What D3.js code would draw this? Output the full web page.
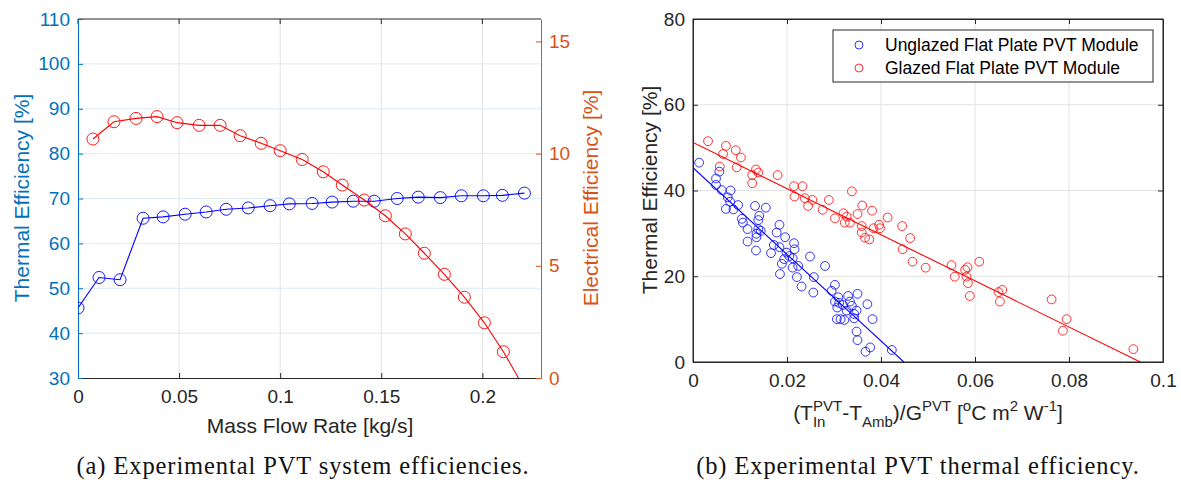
<!DOCTYPE html>
<html>
<head>
<meta charset="utf-8">
<script src="https://cdn.jsdelivr.net/npm/d3@7"></script>
<style>
  body { margin: 0; background: #fff; }
  text { font-family: "Liberation Sans", Arial, sans-serif; white-space: pre; }
</style>
</head>
<body>
<svg id="chart" width="1181" height="483"></svg>
<script>
// ---- data: (a) system efficiencies vs mass flow rate ----
const flowRate = [0, 0.0104, 0.0208, 0.0322, 0.0421, 0.0530, 0.0634, 0.0733, 0.0842, 0.0950, 0.1045,
                  0.1158, 0.1257, 0.1361, 0.1465, 0.1579, 0.1683, 0.1792, 0.1896, 0.2005, 0.2099, 0.2208];
const thermalEff = [45.6, 52.4, 51.9, 65.6, 65.9, 66.5, 67.0, 67.6, 67.9, 68.4, 68.8,
                    68.9, 69.2, 69.4, 69.4, 70.0, 70.3, 70.2, 70.6, 70.6, 70.7, 71.2];
const elecFlow = [0.0074, 0.0178, 0.0287, 0.0391, 0.0490, 0.0599, 0.0703, 0.0802, 0.0906, 0.1000, 0.1109,
                  0.1213, 0.1307, 0.1416, 0.1520, 0.1619, 0.1713, 0.1812, 0.1911, 0.2010, 0.2104, 0.2198];
const elecEff = [10.65, 11.42, 11.57, 11.65, 11.38, 11.26, 11.26, 10.80, 10.46, 10.13, 9.74,
                 9.19, 8.60, 7.93, 7.23, 6.42, 5.56, 4.62, 3.60, 2.46, 1.17, -0.30];
const xTicksA = [0, 0.05, 0.1, 0.15, 0.2];
const xTickLabelsA = ["0", "0.05", "0.1", "0.15", "0.2"];
const thermalTicks = [30, 40, 50, 60, 70, 80, 90, 100, 110];
const elecTicks = [0, 5, 10, 15];

// ---- data: (b) thermal efficiency vs reduced temperature ----
const unglazedX = [0.0013, 0.0056, 0.0049, 0.0049, 0.0061, 0.0080, 0.0074, 0.0079, 0.0070, 0.0086,
                   0.0096, 0.0132, 0.0155, 0.0141, 0.0139, 0.0104, 0.0106, 0.0116, 0.0139, 0.0144,
                   0.0135, 0.0135, 0.0116, 0.0134, 0.0184, 0.0178, 0.0196, 0.0172, 0.0184, 0.0166,
                   0.0215, 0.0216, 0.0199, 0.0205, 0.0212, 0.0194, 0.0189, 0.0212, 0.0224, 0.0185,
                   0.0221, 0.0249, 0.0231, 0.0257, 0.0281, 0.0256, 0.0302, 0.0295, 0.0309, 0.0330,
                   0.0350, 0.0302, 0.0311, 0.0319, 0.0307, 0.0334, 0.0338, 0.0327, 0.0348, 0.0343,
                   0.0371, 0.0343, 0.0382, 0.0306, 0.0314, 0.0322, 0.0348, 0.0350, 0.0377, 0.0367,
                   0.0423];
const unglazedY = [46.5, 44.4, 42.8, 41.3, 40.1, 40.0, 38.4, 37.4, 35.7, 35.6,
                   36.6, 36.4, 36.0, 34.1, 33.1, 33.4, 32.5, 31.0, 31.0, 30.6,
                   29.9, 29.1, 28.1, 26.0, 32.0, 30.2, 29.1, 27.3, 26.8, 25.4,
                   27.7, 26.3, 25.5, 24.7, 24.2, 24.0, 22.9, 22.0, 22.4, 20.5,
                   19.8, 24.6, 17.6, 19.8, 22.4, 16.2, 18.0, 16.6, 15.1, 15.4,
                   15.9, 14.1, 13.8, 13.3, 12.7, 14.1, 13.1, 12.0, 12.0, 11.2,
                   13.5, 10.2, 10.0, 10.0, 10.0, 9.8, 7.1, 5.1, 3.4, 2.4,
                   2.8];
const glazedX = [0.0032, 0.0070, 0.0091, 0.0064, 0.0102, 0.0057, 0.0093, 0.0134, 0.0139, 0.0126,
                 0.0126, 0.0180, 0.0215, 0.0233, 0.0216, 0.0238, 0.0254, 0.0245, 0.0276, 0.0289,
                 0.0338, 0.0302, 0.0320, 0.0327, 0.0323, 0.0334, 0.0350, 0.0360, 0.0381, 0.0359,
                 0.0359, 0.0366, 0.0375, 0.0384, 0.0396, 0.0398, 0.0414, 0.0445, 0.0462, 0.0446,
                 0.0467, 0.0495, 0.0550, 0.0557, 0.0579, 0.0584, 0.0609, 0.0582, 0.0585, 0.0589,
                 0.0658, 0.0650, 0.0653, 0.0763, 0.0795, 0.0787, 0.0937];
const glazedY = [51.5, 50.4, 49.4, 48.5, 47.7, 45.6, 45.4, 44.9, 44.2, 43.6,
                 41.7, 43.6, 41.0, 41.0, 38.6, 38.2, 37.8, 36.4, 35.5, 37.8,
                 39.8, 33.5, 34.7, 33.9, 32.5, 32.5, 34.5, 36.5, 35.3, 31.7,
                 30.2, 29.0, 28.6, 31.2, 32.0, 31.2, 33.7, 31.7, 28.9, 26.3,
                 23.4, 22.0, 22.6, 19.9, 21.5, 22.1, 23.4, 19.9, 18.4, 15.4,
                 16.8, 16.3, 14.1, 14.6, 10.0, 7.3, 3.0];
// linear fits [intercept, slope]
const unglazedFit = [45.3, -1010];
const glazedFit = [51.2, -538];
const xTicksB = [0, 0.02, 0.04, 0.06, 0.08, 0.1];
const xTickLabelsB = ["0", "0.02", "0.04", "0.06", "0.08", "0.1"];
const yTicksB = [0, 20, 40, 60, 80];
const legendLabels = ["Unglazed Flat Plate PVT Module", "Glazed Flat Plate PVT Module"];

// ---- styling ----
const axisColor = "#262626";
const thermalColor = "#0072BD";
const elecColor = "#D95319";
const gridBlue = "#DCEBF5";
const gridGray = "#E3E3E3";
const tickFont = 19;
const labelFont = 21;
const tickLen = 5;

const svg = d3.select("#chart");

function styleAxis(g, color) {
    g.attr("font-size", tickFont)
     .attr("font-family", "'Liberation Sans', Arial, sans-serif");
    g.select(".domain").attr("stroke", color);
    g.selectAll(".tick line").attr("stroke", color);
    g.selectAll(".tick text").attr("fill", color);
}

// ================= panel (a) =================
const xA = d3.scaleLinear().domain([0, 0.229]).range([78, 541]);
const yT = d3.scaleLinear().domain([30, 110]).range([378, 19]);
const yE = d3.scaleLinear().domain([0, 16]).range([378, 19]);

const panelA = svg.append("g");

panelA.append("clipPath").attr("id", "clipA")
    .append("rect").attr("x", 78).attr("y", 19).attr("width", 463).attr("height", 359);

// grid
panelA.selectAll("line.vgrid")
    .data(xTicksA.slice(1))
    .enter().append("line")
    .attr("x1", d => xA(d)).attr("x2", d => xA(d))
    .attr("y1", 19).attr("y2", 378)
    .attr("stroke", gridGray);
panelA.selectAll("line.hgrid")
    .data(thermalTicks.slice(1, -1))
    .enter().append("line")
    .attr("x1", 78).attr("x2", 541)
    .attr("y1", d => yT(d)).attr("y2", d => yT(d))
    .attr("stroke", gridBlue);

// top box line + ticks
panelA.append("line")
    .attr("x1", 78).attr("x2", 541).attr("y1", 19).attr("y2", 19)
    .attr("stroke", axisColor);
panelA.selectAll("line.topTick")
    .data(xTicksA)
    .enter().append("line")
    .attr("x1", d => xA(d)).attr("x2", d => xA(d))
    .attr("y1", 19).attr("y2", 19 + tickLen)
    .attr("stroke", axisColor);

// axes
const axA = panelA.append("g")
    .attr("transform", "translate(0,378)")
    .call(d3.axisBottom(xA).tickValues(xTicksA).tickFormat((d, i) => xTickLabelsA[i])
        .tickSizeInner(-tickLen).tickSizeOuter(0).tickPadding(12));
styleAxis(axA, axisColor);

const ayT = panelA.append("g")
    .attr("transform", "translate(78,0)")
    .call(d3.axisLeft(yT).tickValues(thermalTicks).tickFormat(d3.format("d"))
        .tickSizeInner(-tickLen).tickSizeOuter(0).tickPadding(8));
styleAxis(ayT, thermalColor);

const ayE = panelA.append("g")
    .attr("transform", "translate(541,0)")
    .call(d3.axisRight(yE).tickValues(elecTicks).tickFormat(d3.format("d"))
        .tickSizeInner(-tickLen).tickSizeOuter(0).tickPadding(8));
styleAxis(ayE, elecColor);

// series
const thermalPts = flowRate.map((x, i) => ({ x: x, y: thermalEff[i] }));
const elecPts = elecFlow.map((x, i) => ({ x: x, y: elecEff[i] }));

const plotA = panelA.append("g").attr("clip-path", "url(#clipA)");

plotA.append("path")
    .datum(thermalPts)
    .attr("fill", "none").attr("stroke", "#0000FF").attr("stroke-width", 1.1)
    .attr("d", d3.line().x(d => xA(d.x)).y(d => yT(d.y)));
plotA.selectAll("circle.th")
    .data(thermalPts)
    .enter().append("circle")
    .attr("cx", d => xA(d.x)).attr("cy", d => yT(d.y)).attr("r", 6)
    .attr("fill", "none").attr("stroke", "#0000FF").attr("stroke-width", 0.9);

plotA.append("path")
    .datum(elecPts)
    .attr("fill", "none").attr("stroke", "#FF0000").attr("stroke-width", 1.1)
    .attr("d", d3.line().x(d => xA(d.x)).y(d => yE(d.y)));
plotA.selectAll("circle.el")
    .data(elecPts.filter(d => d.y >= 0))
    .enter().append("circle")
    .attr("cx", d => xA(d.x)).attr("cy", d => yE(d.y)).attr("r", 6)
    .attr("fill", "none").attr("stroke", "#FF0000").attr("stroke-width", 0.9);

// labels
panelA.append("text")
    .attr("transform", "translate(29,198) rotate(-90)")
    .attr("text-anchor", "middle")
    .attr("font-size", labelFont)
    .attr("fill", thermalColor)
    .text("Thermal Efficiency [%]");
panelA.append("text")
    .attr("transform", "translate(598,198) rotate(-90)")
    .attr("text-anchor", "middle")
    .attr("font-size", labelFont)
    .attr("fill", elecColor)
    .text("Electrical Efficiency [%]");
panelA.append("text")
    .attr("x", 310).attr("y", 433)
    .attr("text-anchor", "middle")
    .attr("font-size", labelFont)
    .attr("fill", axisColor)
    .text("Mass Flow Rate [kg/s]");

// ================= panel (b) =================
const xB = d3.scaleLinear().domain([0, 0.1]).range([693, 1163]);
const yB = d3.scaleLinear().domain([0, 80]).range([362, 19]);

const panelB = svg.append("g");

panelB.append("clipPath").attr("id", "clipB")
    .append("rect").attr("x", 693).attr("y", 19).attr("width", 470).attr("height", 343);

panelB.selectAll("line.vgrid")
    .data(xTicksB.slice(1, -1))
    .enter().append("line")
    .attr("x1", d => xB(d)).attr("x2", d => xB(d))
    .attr("y1", 19).attr("y2", 362)
    .attr("stroke", gridGray);
panelB.selectAll("line.hgrid")
    .data(yTicksB.slice(1, -1))
    .enter().append("line")
    .attr("x1", 693).attr("x2", 1163)
    .attr("y1", d => yB(d)).attr("y2", d => yB(d))
    .attr("stroke", gridGray);

const bxB = panelB.append("g")
    .attr("transform", "translate(0,362)")
    .call(d3.axisBottom(xB).tickValues(xTicksB).tickFormat((d, i) => xTickLabelsB[i])
        .tickSizeInner(-tickLen).tickSizeOuter(0).tickPadding(12));
styleAxis(bxB, axisColor);
const txB = panelB.append("g")
    .attr("transform", "translate(0,19)")
    .call(d3.axisTop(xB).tickValues(xTicksB).tickFormat("")
        .tickSizeInner(-tickLen).tickSizeOuter(0));
styleAxis(txB, axisColor);
const lyB = panelB.append("g")
    .attr("transform", "translate(693,0)")
    .call(d3.axisLeft(yB).tickValues(yTicksB).tickFormat(d3.format("d"))
        .tickSizeInner(-tickLen).tickSizeOuter(0).tickPadding(8));
styleAxis(lyB, axisColor);
const ryB = panelB.append("g")
    .attr("transform", "translate(1163,0)")
    .call(d3.axisRight(yB).tickValues(yTicksB).tickFormat("")
        .tickSizeInner(-tickLen).tickSizeOuter(0));
styleAxis(ryB, axisColor);

const plotB = panelB.append("g").attr("clip-path", "url(#clipB)");

const scatterSets = [
    { xs: unglazedX, ys: unglazedY, fit: unglazedFit, color: "#0000FF" },
    { xs: glazedX, ys: glazedY, fit: glazedFit, color: "#FF0000" }
];

scatterSets.forEach(s => {
    const pts = s.xs.map((x, i) => ({ x: x, y: s.ys[i] }));
    plotB.selectAll(null)
        .data(pts)
        .enter().append("circle")
        .attr("cx", d => xB(d.x)).attr("cy", d => yB(d.y)).attr("r", 4.4)
        .attr("fill", "none").attr("stroke", s.color).attr("stroke-width", 0.8);
    const xEnd = -s.fit[0] / s.fit[1];
    const fitPts = [0, xEnd].map(x => ({ x: x, y: s.fit[0] + s.fit[1] * x }));
    plotB.append("path")
        .datum(fitPts)
        .attr("fill", "none").attr("stroke", s.color).attr("stroke-width", 1.1)
        .attr("d", d3.line().x(d => xB(d.x)).y(d => yB(d.y)));
});

// box border on top
panelB.append("rect")
    .attr("x", 693).attr("y", 19).attr("width", 470).attr("height", 343)
    .attr("fill", "none").attr("stroke", axisColor);

// legend
const legend = panelB.append("g");
legend.append("rect")
    .attr("x", 833).attr("y", 30).attr("width", 320).attr("height", 52)
    .attr("fill", "#fff").attr("stroke", axisColor);
legendLabels.forEach((lab, i) => {
    legend.append("circle")
        .attr("cx", 859).attr("cy", 45 + i * 23).attr("r", 4)
        .attr("fill", "none").attr("stroke", scatterSets[i].color).attr("stroke-width", 0.8);
    legend.append("text")
        .attr("x", 885).attr("y", 45 + i * 23).attr("dy", "0.35em")
        .attr("font-size", 17.5).attr("fill", "#000")
        .text(lab);
});

panelB.append("text")
    .attr("transform", "translate(657,190) rotate(-90)")
    .attr("text-anchor", "middle")
    .attr("font-size", labelFont)
    .attr("fill", axisColor)
    .text("Thermal Efficiency [%]");

// x label with sub/superscripts
function textWidth(str, size) {
    const t = svg.append("text").attr("font-size", size).text(str);
    const w = t.node().getComputedTextLength();
    t.remove();
    return w;
}
const smallFont = 15;
const xLabel = panelB.append("g");
let cx = 0;
function piece(str, size, dy) {
    xLabel.append("text").attr("x", cx).attr("y", dy)
        .attr("font-size", size).attr("fill", axisColor).text(str);
    return textWidth(str, size);
}
cx += piece("(T", labelFont, 0);
const wSup = piece("PVT", smallFont, -9);
const wSub = piece("In", smallFont, 7);
cx += Math.max(wSup, wSub);
cx += piece("-T", labelFont, 0);
cx += piece("Amb", smallFont, 7);
cx += piece(")/G", labelFont, 0);
cx += piece("PVT", smallFont, -9);
cx += piece("\u00a0[", labelFont, 0);
cx += piece("o", smallFont, -9);
cx += piece("C m", labelFont, 0);
cx += piece("2", smallFont, -9);
cx += piece("\u00a0W", labelFont, 0);
cx += piece("-1", smallFont, -9);
cx += piece("]", labelFont, 0);
xLabel.attr("transform", `translate(${928 - cx / 2},420)`);

// ================= captions =================
const captions = [
    { text: "(a) Experimental PVT system efficiencies.", x: 303 },
    { text: "(b) Experimental PVT thermal efficiency.", x: 918 }
];
svg.selectAll("text.caption")
    .data(captions)
    .enter().append("text")
    .attr("class", "caption")
    .attr("x", d => d.x).attr("y", 474)
    .attr("text-anchor", "middle")
    .attr("font-size", 24.5)
    .attr("letter-spacing", 0.9)
    .style("font-family", "'Liberation Serif', 'Times New Roman', serif")
    .attr("fill", "#111")
    .text(d => d.text);
</script>
</body>
</html>
